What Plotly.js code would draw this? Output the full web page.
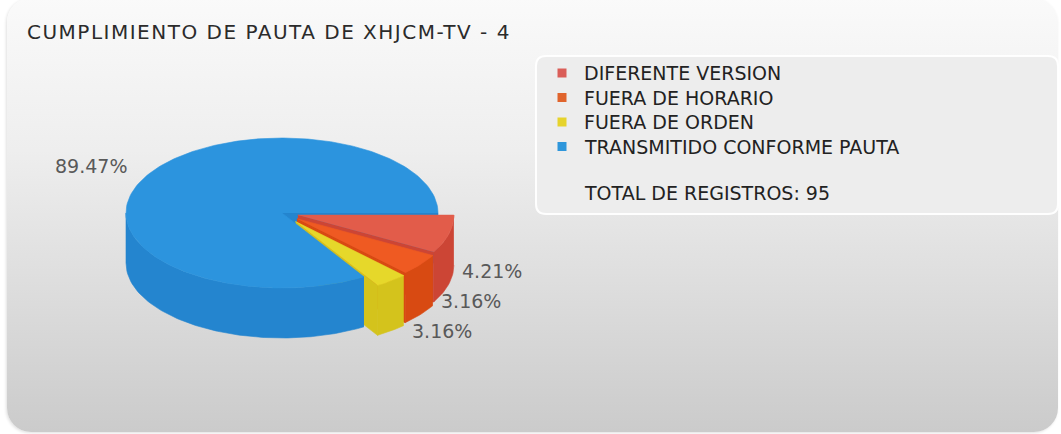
<!DOCTYPE html>
<html>
<head>
<meta charset="utf-8">
<script src="https://cdn.plot.ly/plotly-3.0.1.min.js"></script>
<style>
  html, body { margin: 0; padding: 0; background: #ffffff; width: 1061px; height: 434px; overflow: hidden; }
  #panel { position: absolute; left: 7px; top: -2px; width: 1051px; height: 434px; border-radius: 24px;
           background: linear-gradient(to bottom, #fafafa 0%, #eeeeee 35%, #dedede 65%, #cbcbcb 100%);
           box-shadow: -1px 1px 3px rgba(0,0,0,0.12); }
  #chart { position: absolute; left: 0; top: 0; width: 1061px; height: 434px; }
  #chart .gtitle { letter-spacing: 1.5px !important; }
</style>
</head>
<body>
<div id="panel"></div>
<div id="chart"></div>
<script>
// ---- data ----
const chartTitle = "CUMPLIMIENTO DE PAUTA DE XHJCM-TV - 4";
const categories = ["DIFERENTE VERSION", "FUERA DE HORARIO", "FUERA DE ORDEN", "TRANSMITIDO CONFORME PAUTA"];
const counts = [4, 3, 3, 85];
const totalText = "TOTAL DE REGISTROS: ";

// ---- style ----
const topColors = ["#E25C4A", "#EF5A22", "#E6D82A", "#2C94DE"];
const sideColors = ["#CC4535", "#D84A12", "#D4C31C", "#2485CF"];
const swatchColors = ["#DA5E58", "#E0642C", "#E6D32C", "#2E96DB"];

const W = 1061, H = 434;
const CX = 282, CY = 213, RX = 156, RY = 75, DEPTH = 50, PULL = 16;
const FONT = "DejaVu Sans, Verdana, sans-serif";

const total = counts.reduce((a, b) => a + b, 0);

function rim(deg) {
  const t = deg * Math.PI / 180, c = Math.cos(t), s = Math.sin(t);
  const r = 1 / Math.sqrt(c * c / (RX * RX) + s * s / (RY * RY));
  return [r * c, r * s];
}
function arcPts(a0, a1, ox, oy, dy) {
  const n = Math.max(2, Math.ceil(Math.abs(a1 - a0) / 1));
  const pts = [];
  for (let k = 0; k <= n; k++) {
    const a = a0 + (a1 - a0) * k / n;
    const p = rim(a);
    pts.push([CX + ox + p[0], CY + oy + p[1] + dy]);
  }
  return pts;
}

// build slices from data
const slices = [];
let acc = 0;
counts.forEach((c, i) => {
  const share = c / total;
  const a0 = acc * 360, a1 = (acc + share) * 360;
  acc += share;
  const mid = (a0 + a1) / 2;
  const p = share < 0.5 ? PULL : 0;
  const m = mid * Math.PI / 180;
  slices.push({ i, a0, a1, mid, share, ox: p * Math.cos(m), oy: p * Math.sin(m) });
});

const traces = [];
function poly(pts, color) {
  traces.push({
    type: "scatter", mode: "lines",
    x: pts.map(p => p[0]), y: pts.map(p => p[1]),
    fill: "toself", fillcolor: color,
    line: { color: color, width: 0.6 },
    hoverinfo: "skip", showlegend: false
  });
}
function topFace(s) { return [[CX + s.ox, CY + s.oy]].concat(arcPts(s.a0, s.a1, s.ox, s.oy, 0)); }
function outerWall(s) {
  const lo = Math.max(s.a0, 0), hi = Math.min(s.a1, 180);
  if (hi <= lo) return null;
  return arcPts(lo, hi, s.ox, s.oy, 0).concat(arcPts(hi, lo, s.ox, s.oy, DEPTH));
}
function radialFace(s, a) {
  const p = rim(a);
  const c = [CX + s.ox, CY + s.oy];
  const e = [c[0] + p[0], c[1] + p[1]];
  return [c, e, [e[0], e[1] + DEPTH], [c[0], c[1] + DEPTH]];
}
function maxX(s) {
  let m = -Infinity;
  arcPts(s.a0, s.a1, s.ox, s.oy, 0).forEach(p => { if (p[0] > m) m = p[0]; });
  return m;
}

const big = slices[slices.length - 1];
// back cut face of the big slice
poly(radialFace(big, big.a1), sideColors[big.i]);
// exploded small slices, back to front
slices.slice(0, -1).forEach(s => {
  poly(radialFace(s, s.a1), sideColors[s.i]);
  const w = outerWall(s); if (w) poly(w, sideColors[s.i]);
  poly(topFace(s), topColors[s.i]);
});
// big slice front wall and top
const bw = outerWall(big); if (bw) poly(bw, sideColors[big.i]);
poly(topFace(big), topColors[big.i]);

// legend swatches
traces.push({
  type: "scatter", mode: "markers",
  x: categories.map(() => 562), y: categories.map((_, k) => 73 + 24.5 * k),
  marker: { symbol: "square", size: 9, color: swatchColors, line: { width: 0 } },
  hoverinfo: "skip", showlegend: false
});

const annotations = [];
// percentage labels
let prevY = -Infinity;
slices.forEach(s => {
  const p = rim(s.mid);
  const x = CX + s.ox + p[0], y = CY + s.oy + p[1];
  const txt = (s.share * 100).toFixed(2) + "%";
  const lf = { family: FONT, size: 19, color: "#595959" };
  if (Math.cos(s.mid * Math.PI / 180) < 0) {
    annotations.push({ x: x - 26, y: y - 3, xref: "x", yref: "y", text: txt, showarrow: false,
      xanchor: "right", yanchor: "middle", font: lf });
  } else {
    const ly = Math.max(y + 36, prevY + 30);
    prevY = ly;
    annotations.push({ x: maxX(s) + 6, y: ly, xref: "x", yref: "y", text: txt, showarrow: false,
      xanchor: "left", yanchor: "middle", font: lf });
  }
});
// legend texts
const legFont = { family: FONT, size: 19, color: "#222222" };
categories.forEach((c, k) => {
  annotations.push({ x: 582, y: 73 + 24.5 * k, xref: "x", yref: "y", text: c, showarrow: false,
    xanchor: "left", yanchor: "middle", font: legFont });
});
annotations.push({ x: 582, y: 193, xref: "x", yref: "y", text: totalText + total, showarrow: false,
  xanchor: "left", yanchor: "middle", font: legFont });

const bx0 = 536, by0 = 56, bx1 = 1058, by1 = 214, br = 10;
const legendBox = `M ${bx0 + br},${by0} L ${bx1 - br},${by0} Q ${bx1},${by0} ${bx1},${by0 + br} L ${bx1},${by1 - br} Q ${bx1},${by1} ${bx1 - br},${by1} L ${bx0 + br},${by1} Q ${bx0},${by1} ${bx0},${by1 - br} L ${bx0},${by0 + br} Q ${bx0},${by0} ${bx0 + br},${by0} Z`;

const layout = {
  width: W, height: H,
  margin: { l: 0, r: 0, t: 0, b: 0 },
  paper_bgcolor: "rgba(0,0,0,0)", plot_bgcolor: "rgba(0,0,0,0)",
  title: { text: chartTitle, x: 27 / W, xref: "paper", xanchor: "left", y: 1 - 32 / H, yref: "container", yanchor: "middle",
           font: { family: FONT, size: 20, color: "#2b2b2b" } },
  xaxis: { range: [0, W], visible: false, fixedrange: true },
  yaxis: { range: [H, 0], visible: false, fixedrange: true },
  shapes: [{ type: "path", path: legendBox, xref: "x", yref: "y", layer: "below",
             fillcolor: "#ededed", line: { color: "rgba(255,255,255,0.95)", width: 2 } }],
  annotations: annotations,
  showlegend: false,
  hovermode: false
};

Plotly.newPlot("chart", traces, layout, { displayModeBar: false, staticPlot: true });
</script>
</body>
</html>
